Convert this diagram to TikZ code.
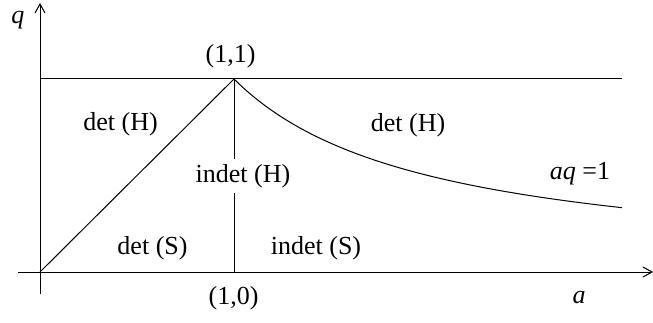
\documentclass[tikz,border=0pt]{standalone}
\usepackage{fontspec}
\setmainfont{Liberation Serif}
\usetikzlibrary{arrows.meta}
\begin{document}
\begin{tikzpicture}[x=1pt,y=-1pt,
  lbl/.style={inner sep=0pt,font=\fontsize{26}{30}\selectfont},
  ln/.style={line width=1pt},
  axis/.style={ln,-{Straight Barb[length=9pt,width=10pt]}}]
\useasboundingbox (0,0) rectangle (653,323);
\coordinate (xs) at (18,272);
\coordinate (xe) at (653,272);
\coordinate (ys) at (40,294);
\coordinate (ye) at (40,3);
\coordinate (O) at (40,272);
\coordinate (P) at (234,79);
\coordinate (Pb) at (234,272);
\coordinate (hl) at (40,79);
\coordinate (hr) at (622,79);
\draw[axis] (xs) -- (xe);
\draw[axis] (ys) -- (ye);
\draw[ln] (hl) -- (hr);
\draw[ln] (O) -- (P);
\draw[ln] (P) -- (Pb);
\draw[ln] plot[domain=1:3,samples=80,smooth] ({40+194*\x},{272-193/\x});
\node[lbl] (l1) at (120.5,124) {det (H)};
\node[lbl] (l2) at (408,125) {det (H)};
\node[lbl,fill=white,inner ysep=5pt,inner xsep=1pt] (l3) at (243,176) {indet (H)};
\node[lbl] (l4) at (152.5,248) {det (S)};
\node[lbl] (l5) at (316,248) {indet (S)};
\node[lbl] (l6) at (230.5,56) {(1,1)};
\node[lbl] (l7) at (233.5,298) {(1,0)};
\node[lbl] (l8) at (580,174) {\textit{aq} =1};
\node[lbl] (lq) at (18,20) {\textit{q}};
\node[lbl] (la) at (579,298) {\textit{a}};
\end{tikzpicture}
\end{document}
